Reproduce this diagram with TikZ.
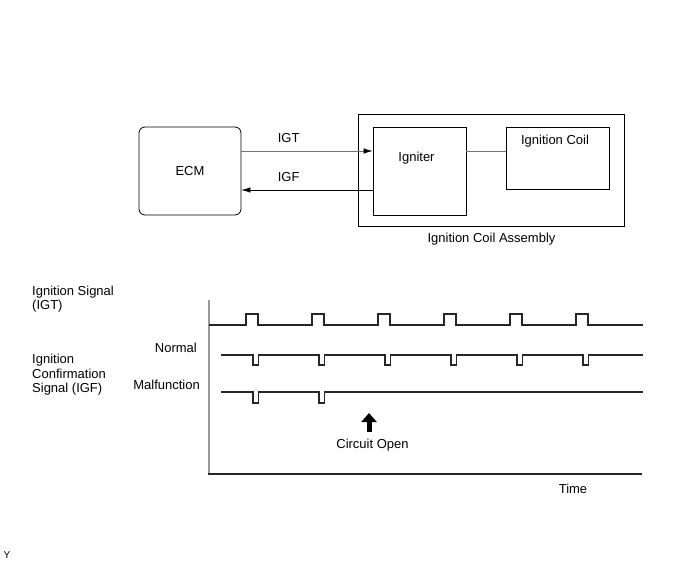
\documentclass[tikz,border=0pt]{standalone}
\usepackage{fontspec}
\setmainfont{Liberation Sans}
\usetikzlibrary{positioning, calc, arrows.meta}

\begin{document}
\begin{tikzpicture}[x=1pt, y=-1pt,
	box/.style={draw, line width=0.8pt, inner sep=0pt},
	lbl/.style={inner sep=0pt, font=\fontsize{13}{14.8}\selectfont},
	sig/.style={line width=0.7pt, -{Latex[length=9pt,width=5.5pt,color=black]}},
	wave/.style={line width=1.6pt, color=black!85, line join=miter},
	axis/.style={line width=1.3pt}]
	\useasboundingbox (0,0) rectangle (690,564);

	% block diagram
	\node (ecm) [box, lbl, rounded corners=6pt, minimum width=102pt, minimum height=88pt] at (190,171) {ECM};
	\node (assy) [box, minimum width=266pt, minimum height=112pt] at (491,170) {};
	\node (igniter) [box, minimum width=93pt, minimum height=88pt] at (419.5,171) {};
	\node (coil) [box, minimum width=103pt, minimum height=62pt] at (557.5,158) {};
	\node (t-igniter) [lbl, anchor=base] at (416.5,162) {Igniter};
	\node (t-coil) [lbl, anchor=base] at (555,145) {Ignition Coil};
	\node (t-assy) [lbl, anchor=base] at (491.5,242) {Ignition Coil Assembly};

	\draw [sig, black!55] ($(ecm.east)+(0,-20)$) -- ($(igniter.west)+(0,-20)$) node (t-igt) [lbl, pos=0.36, above=8pt, black] {IGT};
	\draw [sig] ($(igniter.west)+(0,19)$) -- ($(ecm.east)+(0,19)$) node (t-igf) [lbl, pos=0.64, above=8pt] {IGF};
	\draw [line width=0.7pt, black!55] ($(igniter.east)+(0,-20)$) -- ($(coil.west)+(0,-7)$);

	% timing chart
	\draw [axis, black!40] (209,300) -- (209,474);
	\draw [axis, black!85] (208.4,474) -- (642,474);

	\draw [wave] (209,325) \foreach \i in {0,...,5} {
		-- ({246+66*\i},325) -- ({246+66*\i},314) -- ({258+66*\i},314) -- ({258+66*\i},325)} -- (643,325);
	\draw [wave] (221,355) \foreach \i in {0,...,5} {
		-- ({253+66*\i},355) -- ({253+66*\i},365) -- ({258.5+66*\i},365) -- ({258.5+66*\i},355)} -- (643,355);
	\draw [wave] (221,392) \foreach \i in {0,1} {
		-- ({253+66*\i},392) -- ({253+66*\i},403) -- ({258.5+66*\i},403) -- ({258.5+66*\i},392)} -- (643,392);

	\node (t-igt-sig) [lbl, anchor=north west, align=left] at (32,285.5) {Ignition Signal\\(IGT)};
	\node (t-igf-sig) [lbl, anchor=north west, align=left] at (32,353.6) {Ignition\\Confirmation\\Signal (IGF)};
	\node (t-normal) [lbl, anchor=base east] at (197,352) {Normal};
	\node (t-malf) [lbl, anchor=base east] at (200,389) {Malfunction};

	\coordinate (open) at (369,432);
	\draw [line width=5pt, -{Triangle[length=9pt,width=15pt]}] (open) -- ++(0,-19);
	\node (t-open) [lbl, anchor=base] at (372.5,448) {Circuit Open};
	\node (t-time) [lbl, anchor=base] at (573,493) {Time};
	\node (t-y) [inner sep=0pt, anchor=base, font=\fontsize{10}{12}\selectfont] at (7,558) {Y};
\end{tikzpicture}
\end{document}
